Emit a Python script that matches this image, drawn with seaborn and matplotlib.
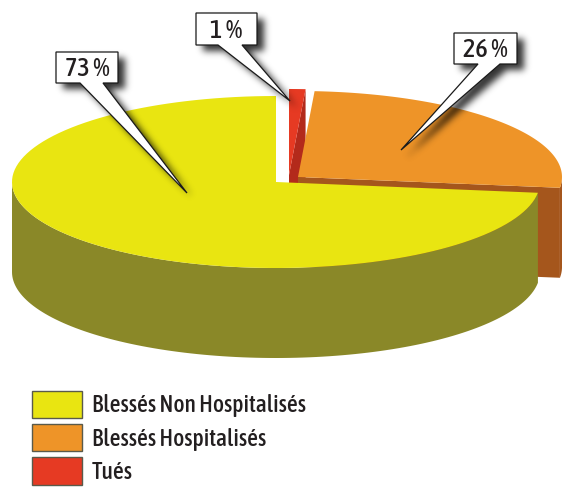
import numpy as np
import matplotlib
matplotlib.use("Agg")
from matplotlib import pyplot as plt
from matplotlib.patches import Patch
from matplotlib.path import Path
import seaborn as sns

sns.set_theme(style="white")
plt.rcParams['font.family'] = ['Asap Condensed', 'DejaVu Sans']

# Data (clockwise from 12 o'clock: Tués, Hospitalisés, Non Hospitalisés)
categories = ["Blessés Non Hospitalisés", "Blessés Hospitalisés", "Tués"]
values = [73, 26, 1]
pct_labels = ["73 %", "26 %", "1 %"]

top_colors = sns.color_palette(["#E9E511", "#EE9428", "#E63A23"])
side_colors = sns.color_palette(["#8A8828", "#A5561C", "#B32A1B"])

# Layout of the fake 3D pie (pixels)
W, H = 563, 500
cx, cy = 276, 182
rx, ry = 264, 86
depth = 90
offsets = [(0, 0), (22, -5), (13, -7)]   # exploded slices
# callout boxes: (x0, y0, x1, y1), pointer base (bx0, bx1), tip
callouts = [
    ((56, 52, 118, 83), (80, 103), (187, 193)),
    ((454, 33, 517, 64), (478, 500), (401, 150)),
    ((196, 13, 257, 45), (218, 242), (290, 101)),
]

fig = plt.figure(figsize=(W / 100, H / 100), dpi=100)
ax = fig.add_axes([0, 0, 1, 1])
ax.set_xlim(0, W)
ax.set_ylim(H, 0)
ax.axis("off")


def pt(x0, y0, th, dz=0.0):
    t = np.radians(th)
    return x0 + rx * np.cos(t), y0 - ry * np.sin(t) + dz


def arc(x0, y0, a, b, dz=0.0, n=120):
    th = np.linspace(a, b, n)
    xs, ys = pt(x0, y0, th, dz)
    return list(xs), list(ys)


# angles, going clockwise from the top
total = sum(values)
angles = {}
start = 90.0
for i in [2, 1, 0]:
    th1 = start - 360.0 * values[i] / total
    angles[i] = (th1, start)
    start = th1

# paint back to front: red, orange, yellow
for i in [2, 1, 0]:
    th1, th2 = angles[i]
    ox, oy = offsets[i]
    x0, y0 = cx + ox, cy + oy

    # radial walls facing the viewer
    for th, nrm in [(th1, th1 - 90), (th2, th2 + 90)]:
        if np.sin(np.radians(nrm)) < -1e-3:
            rxp, ryp = pt(x0, y0, th)
            ax.fill([x0, rxp, rxp, x0], [y0, ryp, ryp + depth, y0 + depth],
                    color=side_colors[i], lw=0, zorder=1)

    # outer wall (front half only)
    a, b = max(th1, -180.0), min(th2, 0.0)
    if a < b:
        tx, ty = arc(x0, y0, a, b)
        bx, by = arc(x0, y0, b, a, depth)
        ax.fill(tx + bx, ty + by, color=side_colors[i], lw=0, zorder=1)

    # top face
    tx, ty = arc(x0, y0, th1, th2)
    ax.fill([x0] + tx, [y0] + ty, color=top_colors[i], lw=0, zorder=1)

# soft drop shadow of the callouts
gx, gy = np.meshgrid(np.arange(W) + 0.5, np.arange(H) + 0.5)
grid = np.column_stack([gx.ravel(), gy.ravel()])
mask = np.zeros(W * H)
shapes = []
for box, base, tip in callouts:
    x0, y0, x1, y1 = box
    px = [x0, x1, x1, base[1], tip[0], base[0], x0]
    py = [y0, y0, y1, y1, tip[1], y1, y1]
    shapes.append((px, py))
    sh = Path(np.column_stack([np.array(px) + 7, np.array(py) + 6]))
    mask = np.maximum(mask, sh.contains_points(grid))
mask = mask.reshape(H, W)
k = np.exp(-0.5 * (np.arange(-12, 13) / 3.5) ** 2)
k /= k.sum()
mask = np.apply_along_axis(lambda r: np.convolve(r, k, mode="same"), 1, mask)
mask = np.apply_along_axis(lambda c: np.convolve(c, k, mode="same"), 0, mask)
shadow = np.zeros((H, W, 4))
shadow[..., 3] = 0.8 * mask
ax.imshow(shadow, extent=(0, W, H, 0), zorder=2, interpolation="bilinear")
ax.set_xlim(0, W)
ax.set_ylim(H, 0)
ax.set_aspect("auto")

# callout boxes and labels
for (px, py), (box, base, tip), lab in zip(shapes, callouts, pct_labels):
    x0, y0, x1, y1 = box
    ax.fill(px, py, facecolor="white", edgecolor="#1a1a1a", lw=0.9, zorder=3)
    ax.text((x0 + x1) / 2, (y0 + y1) / 2 + 1, lab, ha="center", va="center",
            fontsize=19, fontweight="medium", color="#231F20", zorder=4)

# legend
handles = [Patch(facecolor=top_colors[i], edgecolor="#5a5a4a", lw=1.0)
           for i in range(3)]
fs = 17
fs_px = fs * 100 / 72
ax.legend(handles, categories, loc="upper left",
          bbox_to_anchor=(32 / W, 1 - 391 / H), frameon=False,
          borderpad=0, borderaxespad=0,
          prop={"size": fs, "weight": "medium"},
          handlelength=50 / fs_px, handleheight=33 / fs_px,
          handletextpad=10 / fs_px, labelspacing=6 / fs_px,
          labelcolor="#231F20")

fig.savefig("out.png", dpi=100)
